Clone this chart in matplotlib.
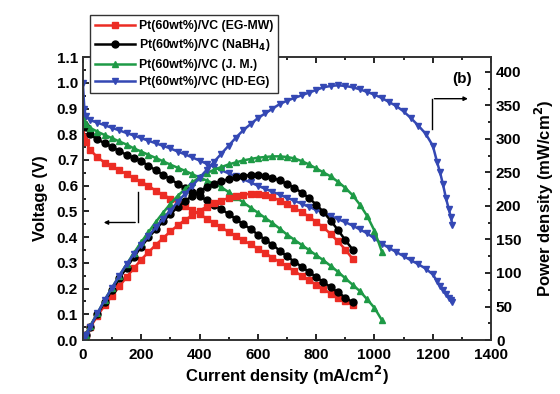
import matplotlib
matplotlib.use("Agg")
import matplotlib.pyplot as plt
from matplotlib.ticker import MultipleLocator

plt.rcParams['font.family'] = ['Liberation Sans', 'DejaVu Sans']
plt.rcParams['font.weight'] = 'bold'

# current density (mA/cm2)
i_red = [0, 5, 10, 25, 50, 75, 100, 125, 150, 175, 200, 225, 250, 275, 300, 325, 350, 375, 400,
         425, 450, 475, 500, 525, 550, 575, 600, 625, 650, 675, 700, 725, 750, 775, 800, 825, 850,
         875, 900, 925]
i_black = i_red
i_green = [0, 5, 10, 25, 50, 75, 100, 125, 150, 175, 200, 225, 250, 275, 300, 325, 350, 375, 400,
           425, 450, 475, 500, 525, 550, 575, 600, 625, 650, 675, 700, 725, 750, 775, 800, 825, 850,
           875, 900, 925, 950, 975, 1000, 1025]
i_blue = [0, 5, 10, 25, 50, 75, 100, 125, 150, 175, 200, 225, 250, 275, 300, 325, 350, 375, 400,
          425, 450, 475, 500, 525, 550, 575, 600, 625, 650, 675, 700, 725, 750, 775, 800, 825, 850,
          875, 900, 925, 950, 975, 1000, 1025, 1050, 1075, 1100, 1125, 1150, 1175, 1200, 1215, 1225,
          1235, 1245, 1255, 1262, 1267]

# voltage (V)
v_red = [0.84, 0.79, 0.77, 0.74, 0.71, 0.69, 0.675, 0.66, 0.645, 0.63, 0.615, 0.60, 0.58, 0.565,
         0.55, 0.535, 0.52, 0.505, 0.49, 0.472, 0.455, 0.438, 0.42, 0.405, 0.388, 0.372, 0.355,
         0.338, 0.32, 0.303, 0.286, 0.268, 0.25, 0.233, 0.215, 0.198, 0.18, 0.165, 0.15, 0.135]
v_black = [0.87, 0.84, 0.83, 0.80, 0.78, 0.765, 0.75, 0.735, 0.72, 0.708, 0.695, 0.678, 0.66, 0.643,
           0.625, 0.608, 0.59, 0.575, 0.56, 0.543, 0.525, 0.508, 0.49, 0.47, 0.45, 0.432, 0.41,
           0.39, 0.37, 0.348, 0.325, 0.305, 0.285, 0.265, 0.245, 0.225, 0.205, 0.185, 0.165, 0.147]
v_green = [0.87, 0.85, 0.84, 0.825, 0.81, 0.797, 0.785, 0.772, 0.76, 0.745, 0.733, 0.72, 0.708,
           0.695, 0.682, 0.67, 0.658, 0.645, 0.632, 0.62, 0.608, 0.594, 0.575, 0.555, 0.535, 0.515,
           0.495, 0.475, 0.455, 0.433, 0.41, 0.39, 0.37, 0.35, 0.33, 0.31, 0.288, 0.265, 0.24,
           0.215, 0.19, 0.158, 0.125, 0.078]
v_blue = [1.0, 0.90, 0.87, 0.855, 0.845, 0.835, 0.825, 0.815, 0.805, 0.795, 0.785, 0.775, 0.765,
          0.755, 0.745, 0.733, 0.722, 0.71, 0.698, 0.685, 0.673, 0.66, 0.648, 0.636, 0.625, 0.613,
          0.60, 0.588, 0.577, 0.565, 0.553, 0.542, 0.53, 0.518, 0.506, 0.494, 0.482, 0.47, 0.458,
          0.445, 0.43, 0.415, 0.395, 0.375, 0.358, 0.342, 0.326, 0.31, 0.295, 0.278, 0.255, 0.228,
          0.21, 0.195, 0.18, 0.165, 0.155, 0.147]

# power density (mW/cm2)
p_red = [0, 4, 8, 19, 36, 52, 66, 80, 94, 107, 120, 131, 142, 152, 162, 171, 179, 186, 193, 199,
         204, 208, 212, 215, 217, 218, 218, 216, 213, 208, 203, 197, 191, 184, 176, 168, 158, 147,
         135, 121]
p_black = [0, 4, 8, 20, 39, 57, 75, 92, 108, 124, 139, 153, 165, 177, 188, 198, 207, 215, 222,
           228, 233, 237, 240, 243, 245, 246, 246, 245, 242, 238, 233, 227, 220, 212, 202, 191,
           178, 164, 149, 135]
p_green = [0, 4, 8, 21, 40, 60, 78, 96, 113, 130, 146, 161, 176, 190, 203, 215, 225, 235, 243,
           249, 254, 258, 262, 265, 268, 270, 272, 273, 274, 274, 273, 271, 267, 262, 256, 250,
           244, 236, 227, 216, 202, 185, 163, 132]
p_blue = [0, 4, 8, 20, 40, 60, 78, 96, 113, 128, 142, 155, 168, 181, 193, 206, 218, 230, 242, 254,
          266, 278, 290, 302, 313, 322, 331, 338, 345, 352, 357, 361, 365, 369, 373, 377, 379, 380,
          379, 377, 374, 370, 366, 361, 355, 349, 341, 331, 320, 308, 290, 265, 250, 232, 212, 195,
          183, 172]

labels = ['Pt(60wt%)/VC (EG-MW)', 'Pt(60wt%)/VC (NaBH$_\\mathbf{4}$)',
          'Pt(60wt%)/VC (J. M.)', 'Pt(60wt%)/VC (HD-EG)']
colors = ['#ec2c24', '#000000', '#1e9a46', '#3448b4']
markers = ['s', 'o', '^', 'v']

fig = plt.figure(figsize=(5.6, 3.94), dpi=100)
ax = fig.add_axes([0.148, 0.137, 0.729, 0.718])
ax2 = ax.twinx()

currents = [i_red, i_black, i_green, i_blue]
volts = [v_red, v_black, v_green, v_blue]
powers = [p_red, p_black, p_green, p_blue]

handles = []
for cur, v, p, c, m, lab in zip(currents, volts, powers, colors, markers, labels):
    h, = ax.plot(cur, v, color=c, marker=m, ms=5, lw=1.8, mec=c, label=lab)
    ax2.plot(cur, p, color=c, marker=m, ms=5, lw=1.8, mec=c)
    handles.append(h)

ax.set_xlim(0, 1400)
ax.set_ylim(0, 1.1)
ax2.set_ylim(0, 422)

ax.xaxis.set_major_locator(MultipleLocator(200))
ax.xaxis.set_minor_locator(MultipleLocator(100))
ax.yaxis.set_major_locator(MultipleLocator(0.1))
ax.yaxis.set_minor_locator(MultipleLocator(0.05))
ax2.yaxis.set_major_locator(MultipleLocator(50))
ax2.yaxis.set_minor_locator(MultipleLocator(25))

ax.tick_params(axis='x', which='both', direction='in', top=True, labelsize=11, width=1.2)
ax.tick_params(axis='x', which='major', length=4, pad=6)
ax.tick_params(axis='x', which='minor', length=2)
ax.tick_params(axis='y', which='both', direction='in', labelsize=11, width=1.2)
ax.tick_params(axis='y', which='major', length=4)
ax.tick_params(axis='y', which='minor', length=2)
ax2.tick_params(axis='y', which='both', direction='in', labelsize=11, width=1.2)
ax2.tick_params(axis='y', which='major', length=4)
ax2.tick_params(axis='y', which='minor', length=2)
ax.yaxis.set_major_formatter(matplotlib.ticker.FormatStrFormatter('%.1f'))

for a in (ax, ax2):
    for s in a.spines.values():
        s.set_linewidth(1.2)
        s.set_color('#333333')

ax.set_xlabel('Current density (mA/cm$^\\mathbf{2}$)', fontsize=12, fontweight='bold', labelpad=1)
ax.set_ylabel('Voltage (V)', fontsize=12, fontweight='bold', labelpad=6)
ax2.set_ylabel('Power density (mW/cm$^\\mathbf{2}$)', fontsize=12, fontweight='bold', labelpad=8)

# arrows
ax.plot([188, 188], [0.457, 0.574], color='black', lw=1)
ax.annotate('', xy=(62, 0.457), xytext=(189, 0.457),
            arrowprops=dict(arrowstyle='-|>', color='black', lw=1, mutation_scale=6))
ax2.plot([1197, 1197], [315, 360], color='black', lw=1)
ax2.annotate('', xy=(1330, 360), xytext=(1196, 360),
             arrowprops=dict(arrowstyle='-|>', color='black', lw=1, mutation_scale=6))
ax2.text(1300, 390, '(b)', fontsize=11, fontweight='bold', ha='center', va='center')

leg = fig.legend(handles=handles, loc='upper left', bbox_to_anchor=(90 / 560, 1 - 15 / 394),
                 borderaxespad=0, fontsize=8.8, numpoints=1, handlelength=3.3,
                 handletextpad=0.3, labelspacing=0.45, borderpad=0.4, fancybox=False,
                 framealpha=1, edgecolor='#333333')
leg.get_frame().set_linewidth(1)

fig.savefig('out.png', dpi=100)
